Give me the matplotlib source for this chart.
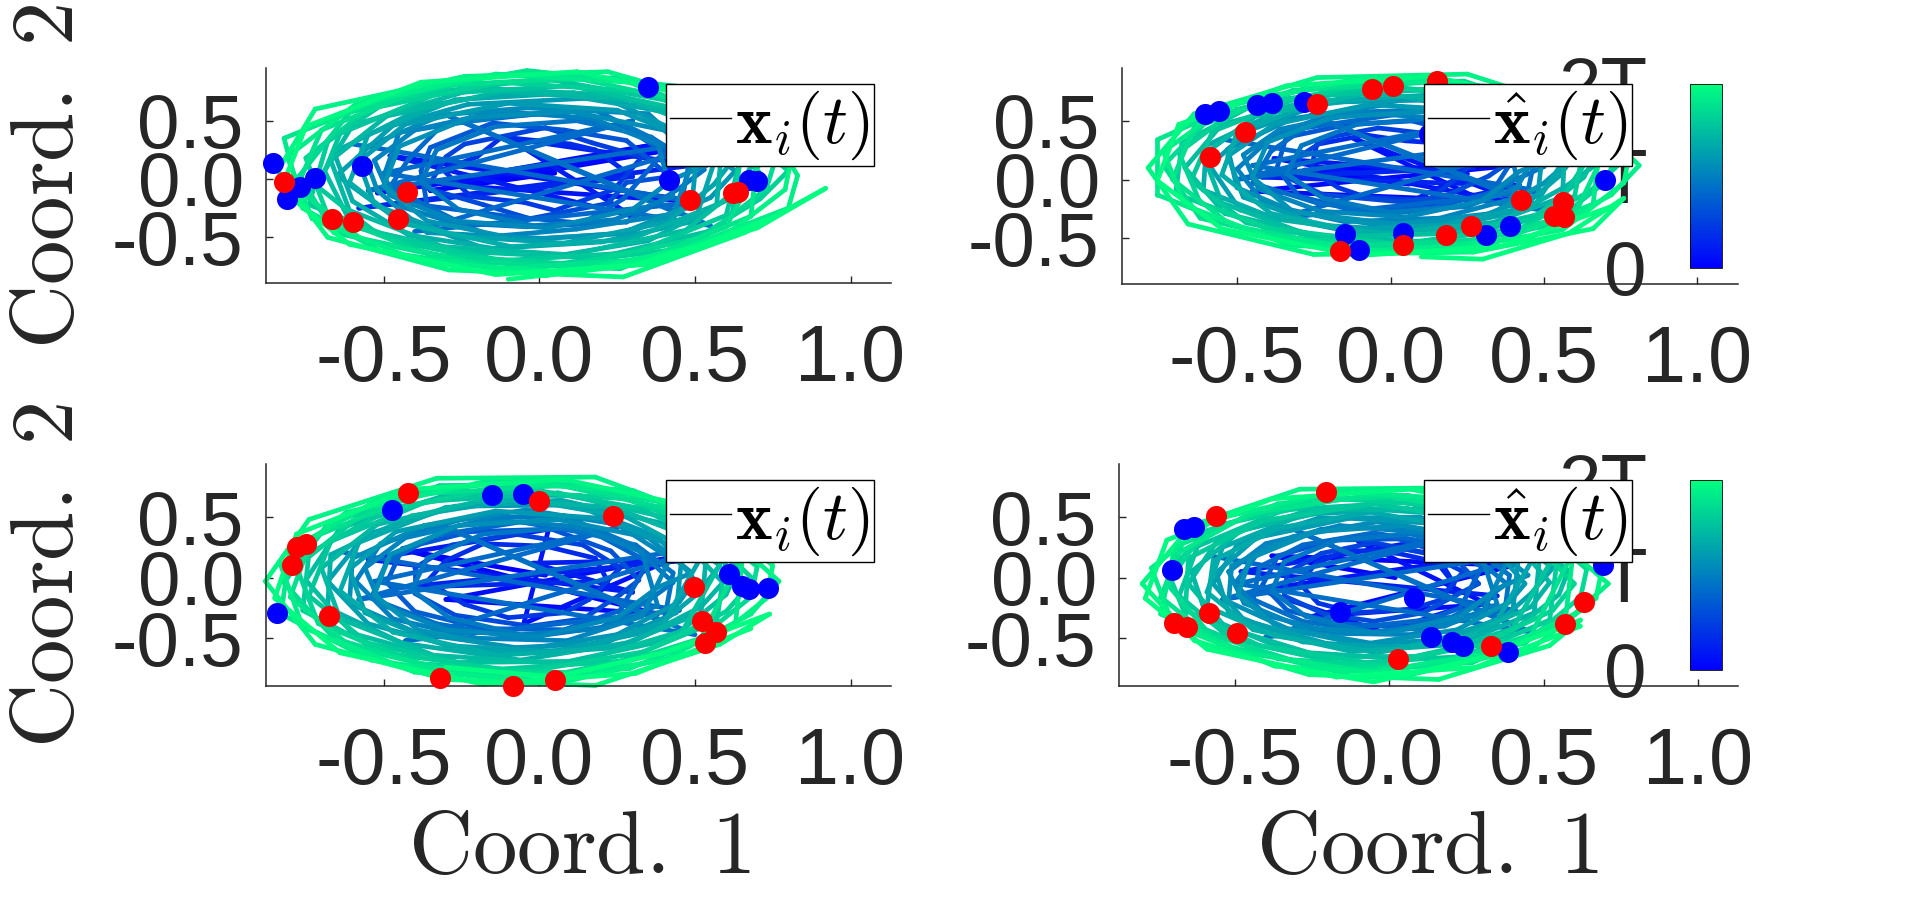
import numpy as np
import matplotlib
matplotlib.use('Agg')
import matplotlib.pyplot as plt
from matplotlib.collections import LineCollection
from matplotlib.colors import Normalize
from matplotlib.cm import ScalarMappable
from matplotlib.lines import Line2D

plt.rcParams['font.family'] = ['Liberation Sans', 'DejaVu Sans']
plt.rcParams['mathtext.fontset'] = 'cm'
TEXT = '#262626'

x_ticks = [-0.5, 0.0, 0.5, 1.0]
y_ticks = [-0.5, 0.0, 0.5]
x_ticklabels = ['-0.5', '0.0', '0.5', '1.0']
y_ticklabels = ['-0.5', '0.0', '0.5']
time_labels = ['0', 'T', '2T']

# trajectories read by eye, one row per orbit
p1_x = [0.05,-0.35,0.42,-0.52,0.38,-0.30,0.52,-0.48,0.30,-0.10,0.50,-0.58,
 0.30,0.18,0.10,-0.12,-0.20,-0.31,-0.22,-0.05,0.05,0.24,
 0.33,0.17,0.02,-0.24,-0.30,-0.36,-0.18,-0.03,0.22,0.28,
 0.42,0.28,0.08,-0.15,-0.35,-0.38,-0.36,-0.10,0.14,0.27,
 0.40,0.29,0.03,-0.31,-0.42,-0.48,-0.25,-0.04,0.28,0.45,
 0.53,0.37,0.18,-0.14,-0.45,-0.50,-0.44,-0.14,0.12,0.43,
 0.50,0.35,-0.04,-0.31,-0.57,-0.52,-0.36,0.02,0.29,0.55,
 0.63,0.45,0.21,-0.23,-0.47,-0.65,-0.48,-0.17,0.20,0.50,
 0.58,0.40,-0.03,-0.36,-0.66,-0.60,-0.42,0.03,0.35,0.64,
 0.72,0.53,0.24,-0.20,-0.60,-0.69,-0.60,-0.25,0.18,0.59,
 0.66,0.46,0.02,-0.47,-0.68,-0.74,-0.43,-0.04,0.45,0.71,
 0.80,0.60,0.25,-0.27,-0.61,-0.77,-0.66,-0.22,0.26,0.60,
 0.74,0.50,-0.04,-0.46,-0.82,-0.76,-0.51,0.02,0.44,0.80,
 0.83,0.71,0.22,-0.24,-0.72,-0.84,-0.68,-0.29,0.27,0.66,0.92,0.70,0.30,-0.10]
p1_y = [0.05,-0.10,0.25,-0.12,0.30,-0.05,-0.20,0.20,-0.32,0.35,0.12,-0.25,
 0.02,0.25,0.30,0.36,0.19,0.08,-0.15,-0.20,-0.27,-0.09,
 0.19,0.31,0.44,0.30,0.19,-0.08,-0.22,-0.34,-0.21,-0.03,
 0.02,0.33,0.42,0.48,0.27,0.07,-0.23,-0.32,-0.38,-0.17,
 0.23,0.42,0.57,0.47,0.17,-0.07,-0.38,-0.41,-0.37,-0.08,
 0.08,0.34,0.59,0.53,0.40,0.02,-0.24,-0.49,-0.43,-0.30,
 0.20,0.56,0.61,0.55,0.26,-0.10,-0.46,-0.51,-0.46,-0.16,
 0.07,0.40,0.70,0.64,0.46,0.03,-0.30,-0.60,-0.54,-0.36,
 0.29,0.58,0.77,0.63,0.23,-0.19,-0.48,-0.67,-0.53,-0.13,
 0.02,0.52,0.72,0.78,0.46,0.07,-0.41,-0.62,-0.68,-0.42,
 0.32,0.65,0.86,0.70,0.32,-0.22,-0.55,-0.76,-0.60,-0.17,
 0.07,0.51,0.87,0.81,0.57,0.03,-0.46,-0.71,-0.77,-0.41,
 0.29,0.78,0.93,0.73,0.35,-0.25,-0.62,-0.83,-0.62,-0.25,
 0.03,0.55,0.92,0.88,0.60,0.07,-0.50,-0.78,-0.84,-0.46,-0.08,-0.42,-0.74,-0.86]
p1b_x = [-0.60,0.50,-0.40,0.60,-0.55,0.30,-0.50,0.55,-0.30,0.45,
 0.48,0.36,0.12,-0.14,-0.33,-0.38,-0.26,-0.02,0.24,0.43,
 0.38,0.17,-0.13,-0.40,-0.53,-0.48,-0.27,0.03,0.30,0.43,
 0.54,0.40,0.10,-0.22,-0.45,-0.50,-0.36,-0.06,0.26,0.49,
 0.51,0.25,-0.10,-0.43,-0.58,-0.53,-0.27,0.08,0.41,0.56,
 0.63,0.46,0.11,-0.27,-0.55,-0.61,-0.44,-0.09,0.29,0.57,
 0.59,0.29,-0.12,-0.49,-0.67,-0.61,-0.31,0.10,0.47,0.65,
 0.69,0.50,0.10,-0.33,-0.64,-0.71,-0.52,-0.12,0.31,0.62,
 0.66,0.33,-0.13,-0.55,-0.75,-0.68,-0.35,0.11,0.53,0.73,
 0.76,0.55,0.11,-0.36,-0.70,-0.78,-0.57,-0.13,0.34,0.68,
 0.71,0.35,-0.14,-0.59,-0.81,-0.73,-0.37,0.12,0.57,0.79,
 0.81,0.59,0.12,-0.38,-0.75,-0.83,-0.61,-0.14,0.36,0.73]
p1b_y = [0.30,-0.20,-0.45,0.35,-0.10,0.50,0.05,-0.40,0.55,-0.30,
 0.12,0.36,0.50,0.45,0.25,-0.02,-0.26,-0.40,-0.35,-0.15,
 0.30,0.52,0.58,0.42,0.16,-0.14,-0.36,-0.42,-0.26,0.00,
 0.12,0.42,0.58,0.53,0.28,-0.06,-0.36,-0.52,-0.47,-0.22,
 0.32,0.59,0.65,0.47,0.15,-0.22,-0.49,-0.55,-0.37,-0.05,
 0.19,0.54,0.74,0.68,0.38,-0.03,-0.38,-0.58,-0.52,-0.22,
 0.37,0.68,0.75,0.54,0.16,-0.27,-0.58,-0.65,-0.44,-0.06,
 0.17,0.57,0.80,0.73,0.39,-0.07,-0.47,-0.70,-0.63,-0.29,
 0.41,0.75,0.83,0.60,0.18,-0.31,-0.65,-0.73,-0.50,-0.08,
 0.18,0.62,0.87,0.79,0.42,-0.08,-0.52,-0.77,-0.69,-0.32,
 0.44,0.82,0.90,0.64,0.19,-0.34,-0.72,-0.80,-0.54,-0.09,
 0.19,0.66,0.92,0.83,0.45,-0.09,-0.56,-0.82,-0.73,-0.35]

p2_x = [0.06,-0.28,0.40,-0.45,0.30,-0.12,0.45,-0.38,0.25,-0.02,0.42,-0.42,
 0.27,0.22,0.05,-0.08,-0.24,-0.26,-0.17,-0.08,0.12,0.20,
 0.30,0.16,-0.04,-0.20,-0.29,-0.33,-0.22,0.03,0.17,0.32,
 0.37,0.31,0.07,-0.14,-0.34,-0.37,-0.30,-0.11,0.14,0.33,
 0.42,0.22,0.03,-0.28,-0.39,-0.45,-0.24,0.00,0.26,0.40,
 0.50,0.36,0.17,-0.18,-0.38,-0.50,-0.41,-0.15,0.16,0.39,
 0.49,0.32,-0.01,-0.32,-0.53,-0.50,-0.31,0.02,0.33,0.50,
 0.57,0.47,0.15,-0.21,-0.46,-0.59,-0.49,-0.16,0.17,0.47,
 0.59,0.33,0.02,-0.35,-0.60,-0.61,-0.37,-0.02,0.36,0.57,
 0.66,0.52,0.21,-0.20,-0.55,-0.67,-0.54,-0.22,0.21,0.53,
 0.68,0.40,0.00,-0.43,-0.68,-0.70,-0.41,0.02,0.42,0.65,
 0.74,0.59,0.24,-0.25,-0.59,-0.74,-0.62,-0.23,0.24,0.60,
 0.72,0.45,0.02,-0.46,-0.76,-0.76,-0.44,-0.02,0.46,0.72,
 0.81,0.63,0.25,-0.24,-0.64,-0.79,-0.66,-0.25,0.27,0.66,0.76,0.58,0.30,0.10]
p2_y = [-0.04,0.08,0.12,-0.10,-0.18,0.35,-0.22,0.18,0.05,-0.30,-0.05,0.02,
 0.10,0.30,0.33,0.38,0.30,0.08,-0.07,-0.15,-0.18,-0.02,
 0.22,0.38,0.44,0.36,0.21,0.01,-0.13,-0.19,-0.15,0.03,
 0.12,0.34,0.50,0.47,0.36,0.10,-0.14,-0.27,-0.24,-0.11,
 0.26,0.44,0.56,0.44,0.24,-0.03,-0.20,-0.29,-0.22,-0.01,
 0.11,0.40,0.60,0.57,0.38,0.09,-0.21,-0.36,-0.33,-0.17,
 0.30,0.50,0.64,0.52,0.26,-0.07,-0.28,-0.38,-0.29,-0.03,
 0.13,0.44,0.68,0.66,0.42,0.12,-0.26,-0.43,-0.39,-0.22,
 0.27,0.55,0.72,0.60,0.29,-0.09,-0.34,-0.46,-0.36,-0.06,
 0.11,0.47,0.78,0.72,0.47,0.10,-0.29,-0.49,-0.46,-0.27,
 0.32,0.63,0.80,0.66,0.31,-0.12,-0.41,-0.55,-0.42,-0.10,
 0.12,0.53,0.84,0.80,0.52,0.12,-0.33,-0.57,-0.53,-0.30,
 0.36,0.70,0.88,0.69,0.34,-0.13,-0.46,-0.62,-0.49,-0.13,
 0.12,0.58,0.90,0.87,0.56,0.10,-0.38,-0.64,-0.62,-0.42,-0.16,-0.46,-0.68,-0.66]
p2b_x = [-0.54,0.49,-0.36,0.58,-0.50,0.30,-0.45,0.54,-0.26,0.44,
 0.47,0.36,0.13,-0.11,-0.29,-0.34,-0.22,0.00,0.25,0.42,
 0.38,0.18,-0.10,-0.36,-0.48,-0.43,-0.23,0.05,0.30,0.42,
 0.53,0.40,0.11,-0.19,-0.40,-0.45,-0.32,-0.04,0.26,0.48,
 0.50,0.26,-0.07,-0.38,-0.53,-0.48,-0.23,0.10,0.41,0.55,
 0.61,0.45,0.12,-0.23,-0.50,-0.55,-0.39,-0.06,0.29,0.56,
 0.57,0.29,-0.09,-0.44,-0.61,-0.55,-0.27,0.11,0.46,0.63,
 0.67,0.49,0.11,-0.29,-0.58,-0.65,-0.47,-0.09,0.31,0.60,
 0.64,0.33,-0.10,-0.50,-0.69,-0.62,-0.31,0.12,0.52,0.71,
 0.73,0.54,0.12,-0.32,-0.64,-0.71,-0.52,-0.10,0.34,0.66,
 0.69,0.35,-0.11,-0.53,-0.74,-0.67,-0.33,0.13,0.56,0.76,
 0.78,0.57,0.13,-0.34,-0.69,-0.76,-0.55,-0.11,0.36,0.71]
p2b_y = [0.34,-0.10,-0.33,0.38,0.00,0.51,0.12,-0.28,0.55,-0.19,
 0.18,0.39,0.52,0.47,0.29,0.05,-0.16,-0.28,-0.23,-0.06,
 0.33,0.52,0.57,0.43,0.21,-0.08,-0.27,-0.32,-0.18,0.07,
 0.18,0.44,0.58,0.53,0.32,0.02,-0.27,-0.39,-0.35,-0.13,
 0.35,0.59,0.64,0.47,0.20,-0.15,-0.39,-0.44,-0.28,0.03,
 0.24,0.55,0.72,0.67,0.40,0.04,-0.29,-0.47,-0.41,-0.15,
 0.40,0.67,0.73,0.54,0.21,-0.20,-0.47,-0.53,-0.34,0.02,
 0.22,0.57,0.77,0.71,0.41,-0.01,-0.37,-0.57,-0.51,-0.14,
 0.43,0.73,0.80,0.60,0.23,-0.20,-0.50,-0.60,-0.39,0.00,
 0.23,0.61,0.83,0.76,0.44,0.00,-0.39,-0.61,-0.54,-0.21,
 0.46,0.79,0.86,0.63,0.24,-0.22,-0.56,-0.63,-0.43,-0.03,
 0.24,0.65,0.88,0.80,0.47,-0.01,-0.42,-0.65,-0.57,-0.24]

p3_x = [0.02,-0.42,0.38,-0.30,0.45,-0.05,0.03,-0.55,0.30,-0.02,0.50,-0.45,
 0.22,0.18,0.02,-0.18,-0.30,-0.36,-0.24,-0.10,0.08,0.16,
 0.26,0.14,-0.08,-0.28,-0.40,-0.40,-0.27,-0.03,0.14,0.26,
 0.32,0.23,0.04,-0.22,-0.44,-0.49,-0.40,-0.18,0.08,0.26,
 0.35,0.19,-0.06,-0.33,-0.49,-0.54,-0.33,-0.06,0.20,0.36,
 0.43,0.30,0.08,-0.24,-0.51,-0.59,-0.47,-0.20,0.09,0.33,
 0.42,0.25,-0.04,-0.37,-0.60,-0.61,-0.39,-0.04,0.25,0.45,
 0.50,0.38,0.11,-0.27,-0.56,-0.68,-0.55,-0.22,0.11,0.40,
 0.52,0.28,-0.06,-0.41,-0.67,-0.68,-0.44,-0.06,0.30,0.52,
 0.59,0.43,0.13,-0.30,-0.64,-0.75,-0.60,-0.26,0.13,0.46,
 0.60,0.33,-0.05,-0.47,-0.74,-0.76,-0.50,-0.05,0.34,0.60,
 0.69,0.50,0.15,-0.32,-0.68,-0.82,-0.66,-0.28,0.17,0.52,
 0.66,0.38,-0.05,-0.52,-0.80,-0.83,-0.54,-0.04,0.40,0.68,
 0.77,0.55,0.18,-0.33,-0.74,-0.88,-0.72,-0.30,0.18,0.58,0.74,0.40,0.05,-0.30]
p3_y = [0.02,0.22,-0.30,-0.18,0.18,-0.38,0.40,0.15,-0.12,0.12,0.15,-0.08,
 -0.03,0.16,0.26,0.28,0.14,-0.03,-0.22,-0.33,-0.29,-0.18,
 0.08,0.27,0.36,0.27,0.08,-0.13,-0.31,-0.40,-0.34,-0.14,
 -0.02,0.22,0.40,0.38,0.24,-0.04,-0.28,-0.42,-0.43,-0.27,
 0.13,0.35,0.46,0.35,0.13,-0.17,-0.38,-0.50,-0.41,-0.17,
 -0.04,0.27,0.51,0.49,0.28,-0.03,-0.34,-0.50,-0.52,-0.32,
 0.16,0.44,0.56,0.43,0.16,-0.21,-0.46,-0.59,-0.47,-0.20,
 -0.02,0.34,0.60,0.59,0.35,-0.03,-0.38,-0.61,-0.60,-0.37,
 0.17,0.50,0.65,0.51,0.19,-0.25,-0.54,-0.68,-0.53,-0.24,
 -0.04,0.39,0.68,0.68,0.41,-0.02,-0.46,-0.70,-0.69,-0.44,
 0.20,0.57,0.74,0.58,0.20,-0.27,-0.62,-0.78,-0.61,-0.28,
 -0.02,0.45,0.77,0.76,0.44,-0.04,-0.50,-0.79,-0.78,-0.50,
 0.22,0.63,0.82,0.64,0.23,-0.30,-0.68,-0.86,-0.68,-0.30,
 -0.03,0.48,0.83,0.82,0.48,-0.03,-0.55,-0.84,-0.89,-0.55,-0.30,-0.62,-0.82,-0.74]
p3b_x = [-0.63,0.45,-0.43,0.55,-0.58,0.25,-0.53,0.50,-0.33,0.40,
 0.43,0.31,0.08,-0.18,-0.36,-0.41,-0.29,-0.06,0.20,0.38,
 0.33,0.13,-0.17,-0.43,-0.56,-0.51,-0.30,-0.01,0.25,0.38,
 0.49,0.35,0.06,-0.26,-0.48,-0.53,-0.39,-0.10,0.21,0.44,
 0.46,0.20,-0.14,-0.46,-0.61,-0.56,-0.30,0.04,0.36,0.51,
 0.58,0.41,0.07,-0.30,-0.58,-0.64,-0.47,-0.13,0.24,0.52,
 0.54,0.24,-0.16,-0.52,-0.70,-0.64,-0.34,0.06,0.42,0.60,
 0.64,0.45,0.06,-0.36,-0.67,-0.74,-0.55,-0.16,0.26,0.57,
 0.61,0.28,-0.17,-0.58,-0.78,-0.71,-0.38,0.07,0.48,0.68,
 0.70,0.50,0.07,-0.39,-0.73,-0.80,-0.60,-0.17,0.29,0.63,
 0.66,0.30,-0.18,-0.62,-0.83,-0.76,-0.40,0.08,0.52,0.73,
 0.75,0.54,0.08,-0.41,-0.78,-0.85,-0.64,-0.18,0.31,0.68]
p3b_y = [0.21,-0.27,-0.52,0.26,-0.18,0.41,-0.03,-0.47,0.45,-0.37,
 0.04,0.27,0.41,0.36,0.16,-0.10,-0.33,-0.47,-0.42,-0.23,
 0.21,0.42,0.48,0.33,0.08,-0.22,-0.43,-0.49,-0.33,-0.08,
 0.04,0.33,0.48,0.43,0.19,-0.14,-0.43,-0.58,-0.54,-0.29,
 0.23,0.49,0.55,0.38,0.07,-0.29,-0.56,-0.61,-0.44,-0.13,
 0.10,0.44,0.64,0.58,0.29,-0.11,-0.45,-0.64,-0.58,-0.29,
 0.28,0.58,0.65,0.44,0.08,-0.34,-0.64,-0.71,-0.51,-0.14,
 0.08,0.47,0.70,0.63,0.30,-0.15,-0.54,-0.76,-0.69,-0.36,
 0.32,0.65,0.73,0.50,0.09,-0.38,-0.71,-0.79,-0.57,-0.16,
 0.09,0.52,0.76,0.69,0.33,-0.16,-0.58,-0.83,-0.75,-0.39,
 0.35,0.72,0.79,0.54,0.10,-0.41,-0.78,-0.86,-0.60,-0.17,
 0.10,0.56,0.81,0.73,0.36,-0.17,-0.62,-0.88,-0.79,-0.42]

p4_x = [0.02,-0.38,0.40,-0.25,0.32,-0.10,0.25,-0.42,-0.02,0.35,-0.48,0.10,
 0.21,0.17,0.03,-0.14,-0.24,-0.29,-0.23,-0.11,0.07,0.16,
 0.24,0.12,-0.05,-0.22,-0.33,-0.34,-0.21,-0.05,0.11,0.22,
 0.29,0.21,0.03,-0.18,-0.36,-0.41,-0.33,-0.16,0.06,0.23,
 0.30,0.18,-0.05,-0.28,-0.42,-0.44,-0.28,-0.05,0.17,0.31,
 0.38,0.26,0.06,-0.22,-0.42,-0.50,-0.40,-0.17,0.07,0.30,
 0.38,0.22,-0.04,-0.31,-0.51,-0.52,-0.33,-0.06,0.22,0.39,
 0.44,0.33,0.10,-0.23,-0.49,-0.57,-0.47,-0.18,0.10,0.35,
 0.46,0.26,-0.06,-0.36,-0.57,-0.59,-0.37,-0.04,0.25,0.46,
 0.52,0.40,0.12,-0.24,-0.55,-0.65,-0.53,-0.22,0.12,0.40,
 0.53,0.30,-0.05,-0.41,-0.65,-0.66,-0.42,-0.05,0.29,0.53,
 0.60,0.44,0.14,-0.28,-0.60,-0.72,-0.58,-0.24,0.15,0.46,
 0.59,0.33,-0.04,-0.45,-0.70,-0.74,-0.47,-0.06,0.34,0.60,
 0.71,0.50,0.17,-0.29,-0.64,-0.80,-0.63,-0.26,0.16,0.52,0.62,0.30,-0.05,-0.38]
p4_y = [0.00,0.18,0.10,-0.32,-0.22,0.30,0.15,-0.10,-0.45,-0.15,0.05,0.30,
 -0.05,0.12,0.20,0.23,0.11,-0.05,-0.21,-0.29,-0.26,-0.19,
 0.05,0.20,0.29,0.20,0.04,-0.15,-0.30,-0.36,-0.29,-0.14,
 -0.05,0.17,0.32,0.31,0.18,-0.06,-0.27,-0.38,-0.41,-0.25,
 0.09,0.27,0.37,0.27,0.09,-0.18,-0.36,-0.45,-0.37,-0.18,
 -0.05,0.21,0.42,0.40,0.22,-0.05,-0.31,-0.46,-0.47,-0.30,
 0.12,0.36,0.46,0.34,0.10,-0.20,-0.42,-0.54,-0.43,-0.20,
 -0.05,0.27,0.50,0.49,0.28,-0.05,-0.35,-0.56,-0.56,-0.35,
 0.13,0.40,0.54,0.41,0.14,-0.24,-0.48,-0.62,-0.48,-0.24,
 -0.04,0.32,0.57,0.57,0.33,-0.05,-0.41,-0.65,-0.65,-0.42,
 0.16,0.47,0.61,0.47,0.16,-0.27,-0.56,-0.71,-0.56,-0.27,
 -0.05,0.36,0.66,0.65,0.38,-0.05,-0.47,-0.74,-0.73,-0.47,
 0.18,0.53,0.69,0.53,0.18,-0.30,-0.62,-0.78,-0.62,-0.30,
 -0.05,0.41,0.74,0.73,0.43,-0.05,-0.52,-0.80,-0.84,-0.56,-0.35,-0.66,-0.86,-0.72]
p4b_x = [-0.58,0.41,-0.40,0.50,-0.54,0.23,-0.49,0.46,-0.31,0.37,
 0.39,0.28,0.07,-0.17,-0.34,-0.38,-0.27,-0.06,0.18,0.35,
 0.30,0.11,-0.16,-0.40,-0.52,-0.47,-0.28,-0.01,0.23,0.35,
 0.45,0.32,0.05,-0.24,-0.45,-0.49,-0.36,-0.09,0.19,0.40,
 0.42,0.19,-0.13,-0.43,-0.56,-0.52,-0.28,0.03,0.33,0.46,
 0.53,0.37,0.06,-0.28,-0.54,-0.59,-0.44,-0.12,0.22,0.47,
 0.49,0.22,-0.15,-0.48,-0.64,-0.59,-0.32,0.05,0.38,0.55,
 0.58,0.41,0.05,-0.34,-0.62,-0.68,-0.51,-0.15,0.24,0.52,
 0.55,0.26,-0.16,-0.54,-0.72,-0.65,-0.36,0.06,0.44,0.62,
 0.64,0.46,0.06,-0.36,-0.67,-0.74,-0.55,-0.16,0.27,0.57,
 0.60,0.28,-0.17,-0.57,-0.77,-0.70,-0.37,0.07,0.47,0.67,
 0.69,0.49,0.07,-0.38,-0.72,-0.79,-0.59,-0.17,0.28,0.62]
p4b_y = [0.18,-0.27,-0.49,0.22,-0.18,0.36,-0.05,-0.45,0.40,-0.36,
 0.02,0.23,0.36,0.31,0.13,-0.11,-0.32,-0.45,-0.40,-0.22,
 0.18,0.37,0.43,0.28,0.05,-0.21,-0.41,-0.46,-0.32,-0.09,
 0.02,0.28,0.43,0.38,0.16,-0.14,-0.41,-0.55,-0.51,-0.29,
 0.19,0.44,0.49,0.33,0.04,-0.29,-0.53,-0.58,-0.42,-0.13,
 0.08,0.39,0.57,0.52,0.25,-0.12,-0.43,-0.61,-0.55,-0.29,
 0.24,0.52,0.58,0.39,0.05,-0.33,-0.61,-0.67,-0.48,-0.14,
 0.06,0.42,0.62,0.56,0.26,-0.15,-0.51,-0.71,-0.65,-0.35,
 0.27,0.58,0.65,0.44,0.07,-0.37,-0.67,-0.74,-0.54,-0.16,
 0.07,0.46,0.68,0.61,0.28,-0.16,-0.55,-0.78,-0.70,-0.37,
 0.30,0.64,0.71,0.48,0.08,-0.39,-0.73,-0.80,-0.57,-0.17,
 0.08,0.50,0.73,0.65,0.31,-0.17,-0.59,-0.82,-0.74,-0.40]

# red and blue marks at the start and end of the window
p1_blue_x = [-0.857,-0.571,-0.719,-0.768,-0.812,0.350,0.417,0.673,0.699]
p1_blue_y = [0.134,0.114,0.006,-0.066,-0.172,0.786,-0.009,-0.009,-0.017]
p1_red_x = [-0.819,-0.424,-0.666,-0.599,-0.455,0.484,0.622,0.638]
p1_red_y = [-0.026,-0.109,-0.343,-0.369,-0.346,-0.180,-0.117,-0.111]
p2_blue_x = [-0.604,-0.559,-0.435,-0.385,-0.281,-0.150,-0.104,0.040,0.389,0.311,0.698,0.124]
p2_blue_y = [0.563,0.586,0.640,0.654,0.663,-0.466,-0.603,-0.457,-0.395,-0.474,0.000,0.392]
p2_red_x = [-0.588,-0.473,-0.239,-0.060,0.008,0.152,-0.164,0.042,0.180,0.261,0.425,0.563,0.531,0.566]
p2_red_y = [0.191,0.406,0.643,0.769,0.800,0.843,-0.609,-0.557,-0.474,-0.397,-0.172,-0.195,-0.315,-0.317]
p3_blue_x = [-0.473,-0.152,-0.051,-0.843,0.610,0.650,0.673,0.736]
p3_blue_y = [0.560,0.684,0.690,-0.288,0.029,-0.065,-0.095,-0.087]
p3_red_x = [-0.422,-0.002,0.238,-0.749,-0.780,-0.796,-0.676,0.496,0.523,0.569,0.533,-0.319,-0.085,0.051]
p3_red_y = [0.698,0.629,0.511,0.277,0.257,0.106,-0.313,-0.076,-0.354,-0.445,-0.536,-0.825,-0.892,-0.845]
p4_blue_x = [-0.702,-0.665,-0.631,-0.159,0.081,0.137,0.204,0.238,0.385,0.694]
p4_blue_y = [0.065,0.401,0.422,-0.280,-0.169,-0.492,-0.528,-0.561,-0.611,0.106]
p4_red_x = [-0.206,-0.561,-0.583,-0.696,-0.655,-0.492,0.028,0.331,0.571,0.631]
p4_red_y = [0.703,0.511,-0.291,-0.371,-0.409,-0.459,-0.669,-0.564,-0.382,-0.200]

W, H = 1920, 911
fig = plt.figure(figsize=(W / 100, H / 100), dpi=100)


def make_segments(xs, ys, t_start):
    pts = np.column_stack([xs, ys])
    segs = np.stack([pts[:-1], pts[1:]], axis=1)
    return segs, np.linspace(t_start, 1, len(segs))


def add_panel(box, xlim, ylim, paths, bx, by, rx, ry, legend_label, legend_xy):
    left, top, right, bottom = box
    ax = fig.add_axes([left / W, 1 - bottom / H, (right - left) / W, (bottom - top) / H])
    ax.set_zorder(2)
    ax.patch.set_alpha(0)
    ax.set_xlim(xlim)
    ax.set_ylim(ylim)

    # later times go on top, so the rim stays green
    segs_a, t_a = make_segments(paths[0], paths[1], 0.0)
    segs_b, t_b = make_segments(paths[2], paths[3], 0.4)
    segs = np.concatenate([segs_a, segs_b])
    t = np.concatenate([t_a ** 0.75, t_b])
    order = np.argsort(t)
    lc = LineCollection(segs[order], cmap='winter', norm=Normalize(0, 1),
                        linewidths=3.4, capstyle='round', clip_on=False)
    lc.set_array(t[order])
    ax.add_collection(lc)

    ax.scatter(bx, by, s=230, color='#0000ff', zorder=3, clip_on=False, linewidths=0)
    ax.scatter(rx, ry, s=230, color='#ff0000', zorder=4, clip_on=False, linewidths=0)

    ax.set_xticks(x_ticks)
    ax.set_xticklabels(x_ticklabels)
    ax.set_yticks(y_ticks)
    ax.set_yticklabels(y_ticklabels)
    ax.tick_params(axis='x', direction='in', length=5, width=1, pad=29, labelsize=57, colors=TEXT)
    ax.tick_params(axis='y', direction='in', length=5, width=1, pad=16, labelsize=55, colors=TEXT)
    for name in ['top', 'right']:
        ax.spines[name].set_visible(False)
    for name in ['left', 'bottom']:
        ax.spines[name].set_color(TEXT)
        ax.spines[name].set_linewidth(1.1)

    handle = Line2D([], [], color='k', lw=1)
    leg = ax.legend([handle], [legend_label], loc='upper left',
                    bbox_to_anchor=(legend_xy[0] / W, 1 - legend_xy[1] / H),
                    bbox_transform=fig.transFigure, borderaxespad=0, fontsize=50,
                    handlelength=0.88, handletextpad=0.05, borderpad=0.06,
                    fancybox=False, framealpha=1, edgecolor='k')
    leg.get_frame().set_linewidth(1)
    leg.set_zorder(10)
    return ax


def add_colorbar(box):
    left, top, right, bottom = box
    cax = fig.add_axes([left / W, 1 - bottom / H, (right - left) / W, (bottom - top) / H])
    cax.set_zorder(1)
    sm = ScalarMappable(norm=Normalize(0, 2), cmap='winter')
    cb = fig.colorbar(sm, cax=cax)
    cb.set_ticks([0, 1, 2])
    cb.set_ticklabels(time_labels)
    cax.yaxis.set_ticks_position('left')
    cax.tick_params(length=0, pad=31, labelsize=55, colors=TEXT)
    cb.outline.set_linewidth(0.6)


x_label = r'$\mathrm{Coord.\ 1}$'
y_label = r'$\mathrm{Coord.\ 2}$'
x_legend = r'$\mathbf{x}_i(t)$'
hat_legend = r'$\hat{\mathbf{x}}_i(t)$'

ax1 = add_panel((266, 68, 891, 283), (-0.878, 1.13), (-0.892, 0.952), (p1_x, p1_y, p1b_x, p1b_y),
                p1_blue_x, p1_blue_y, p1_red_x, p1_red_y, x_legend, (666, 84))
ax2 = add_panel((1122, 68, 1738, 284), (-0.875, 1.132), (-0.892, 0.952), (p2_x, p2_y, p2b_x, p2b_y),
                p2_blue_x, p2_blue_y, p2_red_x, p2_red_y, hat_legend, (1424, 84))
ax3 = add_panel((266, 464, 891, 686), (-0.878, 1.13), (-0.894, 0.938), (p3_x, p3_y, p3b_x, p3b_y),
                p3_blue_x, p3_blue_y, p3_red_x, p3_red_y, x_legend, (666, 480))
ax4 = add_panel((1119, 464, 1738, 686), (-0.875, 1.13), (-0.894, 0.938), (p4_x, p4_y, p4b_x, p4b_y),
                p4_blue_x, p4_blue_y, p4_red_x, p4_red_y, hat_legend, (1424, 480))

add_colorbar((1690, 84, 1722, 268))
add_colorbar((1690, 480, 1722, 670))

for ax, yc in [(ax1, 176), (ax3, 575)]:
    ax.set_ylabel(y_label, fontsize=64, color=TEXT, va='center')
    ax.yaxis.set_label_coords(50 / W, 1 - yc / H, transform=fig.transFigure)
for ax, xc in [(ax3, 579), (ax4, 1427)]:
    ax.set_xlabel(x_label, fontsize=64, color=TEXT, va='center')
    ax.xaxis.set_label_coords(xc / W, 1 - 850 / H, transform=fig.transFigure)

fig.savefig('out.png', dpi=100)
